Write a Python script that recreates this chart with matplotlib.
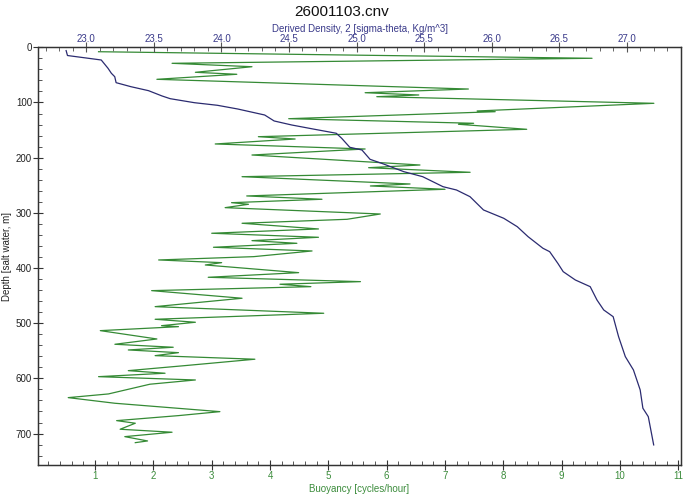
import matplotlib
matplotlib.use("Agg")
import matplotlib.pyplot as plt
from matplotlib.ticker import MultipleLocator, FormatStrFormatter

plt.rcParams['font.family'] = ['Liberation Sans', 'DejaVu Sans']

# Buoyancy profile (cycles/hour) vs depth (m)
buoy = [1.06, 9.52, 2.32, 3.69, 2.72, 3.43, 2.06, 7.40, 5.63, 6.55, 5.83, 10.58,
        7.55, 7.86, 4.32, 7.49, 7.23, 8.40, 3.80, 4.43, 3.06, 5.63, 3.69, 6.57,
        5.69, 7.43, 3.52, 6.40, 5.72, 7.00, 3.60, 4.89, 3.34, 3.63, 3.23, 5.89,
        5.32, 3.52, 4.83, 3.00, 4.83, 3.69, 4.46, 3.03, 4.72, 3.72, 2.09, 3.17,
        2.89, 4.49, 2.94, 5.55, 4.17, 4.70, 1.97, 3.52, 2.03, 4.92, 2.03, 2.72,
        2.14, 2.43, 1.09, 2.06, 1.34, 2.34, 1.57, 2.43, 2.03, 3.74, 2.54, 1.57,
        2.20, 1.06, 2.72, 1.94, 1.23, 0.54, 1.34, 3.14, 2.43, 1.37, 1.69, 1.43,
        2.32, 1.51, 1.90, 1.69]
buoy_depth = [8.0, 19.9, 29.0, 35.2, 45.3, 48.9, 58.0, 75.6, 82.3, 86.4, 89.5, 101.5,
              115.4, 116.7, 129.4, 137.7, 139.5, 148.6, 162.0, 166.2, 175.2, 184.3, 195.2, 213.3,
              218.2, 226.5, 234.5, 247.7, 251.3, 257.3, 269.4, 275.4, 281.6, 284.5, 290.6, 302.1,
              311.7, 318.9, 329.2, 337.0, 344.3, 350.4, 355.2, 362.4, 369.1, 379.4, 385.4, 390.3,
              394.5, 408.4, 416.8, 424.7, 429.4, 433.8, 441.0, 454.8, 470.0, 482.0, 492.9, 498.3,
              504.5, 506.3, 513.5, 528.6, 538.2, 543.6, 548.5, 553.4, 558.8, 565.3, 576.9, 586.0,
              590.7, 596.9, 602.9, 610.6, 628.2, 634.9, 645.1, 660.3, 667.5, 676.6, 681.3, 692.2,
              697.6, 705.6, 713.4, 716.5]

# Derived density (sigma-theta) vs depth (m)
dens = [22.85, 22.86, 23.11, 23.16, 23.185, 23.21, 23.22, 23.33, 23.46, 23.56, 23.62,
        23.80, 23.97, 24.12, 24.32, 24.39, 24.52, 24.69, 24.85, 24.89, 24.95, 25.04,
        25.10, 25.20, 25.35, 25.49, 25.64, 25.74, 25.84, 25.94, 26.09, 26.19, 26.27,
        26.38, 26.43, 26.49, 26.53, 26.62, 26.73, 26.78, 26.83, 26.90, 26.94, 26.99,
        27.05, 27.10, 27.12, 27.16, 27.20]
dens_depth = [6.0, 14.9, 23.0, 38.0, 47.1, 53.3, 64.1, 71.4, 78.6, 88.2, 93.1,
              100.4, 105.1, 111.8, 122.7, 133.5, 140.8, 148.6, 155.8, 164.9, 181.2, 186.1,
              203.0, 211.5, 225.4, 234.5, 252.6, 258.6, 270.7, 294.8, 309.9, 325.1, 343.2,
              364.2, 370.4, 391.4, 406.6, 421.7, 433.8, 457.9, 476.0, 488.2, 524.4, 560.6,
              584.7, 620.9, 654.1, 669.4, 720.6]

title = "26001103.cnv"
top_label = "Derived Density, 2 [sigma-theta, Kg/m^3]"
bottom_label = "Buoyancy [cycles/hour]"
left_label = "Depth [salt water, m]"

green = '#358a35'
navy = '#2b2b70'
green_txt = '#3c8c3c'
navy_txt = '#3a3a8a'

fig = plt.figure(figsize=(6.83, 5.0), dpi=100)
ax = fig.add_axes([38.3/683, 1-465/500, (680.7-38.3)/683, (465-47.3)/500])
ax.plot(buoy, buoy_depth, color=green, lw=0.9, zorder=3)
ax.set_xlim(0.027, 11.04)
ax.set_ylim(757, 0)

ax2 = ax.twiny()
ax2.plot(dens, dens_depth, color=navy, lw=0.9, zorder=3)
ax2.set_xlim(22.644, 27.40)
ax2.set_ylim(757, 0)

for s in ax.spines.values():
    s.set_color('#333333'); s.set_linewidth(0.9)
for s in ax2.spines.values():
    s.set_color('#333333'); s.set_linewidth(0.9)

ax.xaxis.set_major_locator(MultipleLocator(1))
ax.xaxis.set_minor_locator(MultipleLocator(0.2))
ax.xaxis.set_major_formatter(FormatStrFormatter('%d'))
ax.yaxis.set_major_locator(MultipleLocator(100))
ax.yaxis.set_minor_locator(MultipleLocator(20))
ax.yaxis.set_major_formatter(FormatStrFormatter('%d'))
ax2.xaxis.set_major_locator(MultipleLocator(0.5))
ax2.xaxis.set_minor_locator(MultipleLocator(0.1))
ax2.xaxis.set_major_formatter(FormatStrFormatter('%.1f'))

ax.tick_params(axis='x', which='major', direction='inout', length=7, width=0.8,
               colors='#333333', labelcolor=green_txt, labelsize=7, pad=1)
ax.tick_params(axis='x', which='minor', direction='in', length=3.2, width=0.7, colors='#555555')
ax.tick_params(axis='y', which='major', direction='inout', length=7, width=0.8,
               colors='#333333', labelcolor='#222222', labelsize=7, pad=1)
ax.tick_params(axis='y', which='minor', direction='in', length=3.2, width=0.7, colors='#555555')
ax2.tick_params(axis='x', which='major', direction='inout', length=7, width=0.8,
                colors='#555555', labelcolor=navy_txt, labelsize=7, pad=-1)
ax2.tick_params(axis='x', which='minor', direction='in', length=3.2, width=0.7, colors='#666666')

ax.set_xlabel(bottom_label, color=green_txt, fontsize=7, labelpad=2)
ax.set_ylabel(left_label, color='#222222', fontsize=7, labelpad=3)
ax2.set_xlabel(top_label, color=navy_txt, fontsize=7, labelpad=1)

fig.text(0.5, 1-12/500, title, ha='center', va='center', fontsize=11, color='#111111')

fig.savefig('out.png', dpi=100)
